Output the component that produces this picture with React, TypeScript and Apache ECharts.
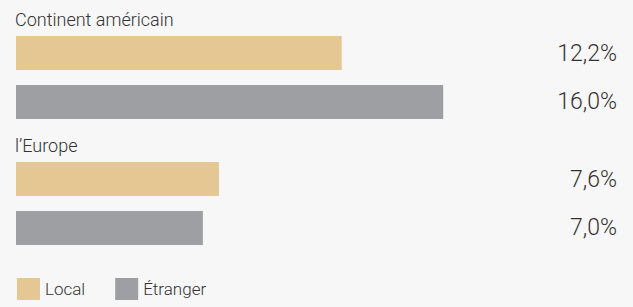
import React, { useEffect, useRef } from "react";
import * as echarts from "echarts";

const categories = ["Continent américain", "l’Europe"];
const localValues = [12.2, 7.6];
const foreignValues = [16.0, 7.0];
const seriesNames = ["Local", "Étranger"];

const FONT = "Roboto, 'DejaVu Sans Condensed', sans-serif";
const TEXT = "#333333";
const W = 633;
const H = 307;

const fmt = (v: number) => v.toFixed(1).replace(".", ",") + "%";

export default function App() {
  const ref = useRef<HTMLDivElement>(null);
  useEffect(() => {
    document.body.style.margin = "0";
    if (!ref.current) return;
    const chart = echarts.init(ref.current, undefined, { renderer: "svg" });
    const labelCfg = {
      show: true,
      position: "right" as const,
      fontFamily: FONT,
      fontWeight: 300,
      fontSize: 23,
      color: TEXT,
      formatter: (p: any) => fmt(p.value),
    };
    const layout = (params: any) => ({
      x: W - 16,
      y: params.rect.y + params.rect.height / 2,
      align: "right" as const,
      verticalAlign: "middle" as const,
    });
    chart.setOption({
      animation: false,
      backgroundColor: "#f7f7f7",
      grid: { left: 16, width: 534, top: 14.5, height: 252 },
      xAxis: {
        type: "value",
        min: 0,
        max: 20,
        show: false,
      },
      yAxis: {
        type: "category",
        data: categories,
        inverse: true,
        axisLine: { show: false },
        axisTick: { show: false },
        splitLine: { show: false },
        axisLabel: {
          inside: true,
          margin: -1,
          align: "left",
          verticalAlign: "middle",
          formatter: (v: string) => `{t|${v}}`,
          rich: {
            t: {
              padding: [0, 0, 117, 0],
              fontFamily: FONT,
              fontWeight: 300,
              fontSize: 18,
              color: TEXT,
            },
          },
        },
      },
      legend: {
        left: 17,
        top: 278,
        padding: 0,
        itemWidth: 23,
        itemHeight: 22,
        itemGap: 30,
        icon: "rect",
        textStyle: { fontFamily: FONT, fontWeight: 300, fontSize: 17, color: TEXT },
        data: seriesNames,
      },
      series: [
        {
          name: seriesNames[0],
          type: "bar",
          data: localValues,
          barWidth: 34,
          barGap: "44%",
          itemStyle: { color: "#e5c794" },
          label: labelCfg,
          labelLayout: layout,
        },
        {
          name: seriesNames[1],
          type: "bar",
          data: foreignValues,
          barWidth: 34,
          barGap: "44%",
          itemStyle: { color: "#9e9fa3" },
          label: labelCfg,
          labelLayout: layout,
        },
      ],
    });
    return () => chart.dispose();
  }, []);
  return <div ref={ref} style={{ width: W, height: H }} />;
}
